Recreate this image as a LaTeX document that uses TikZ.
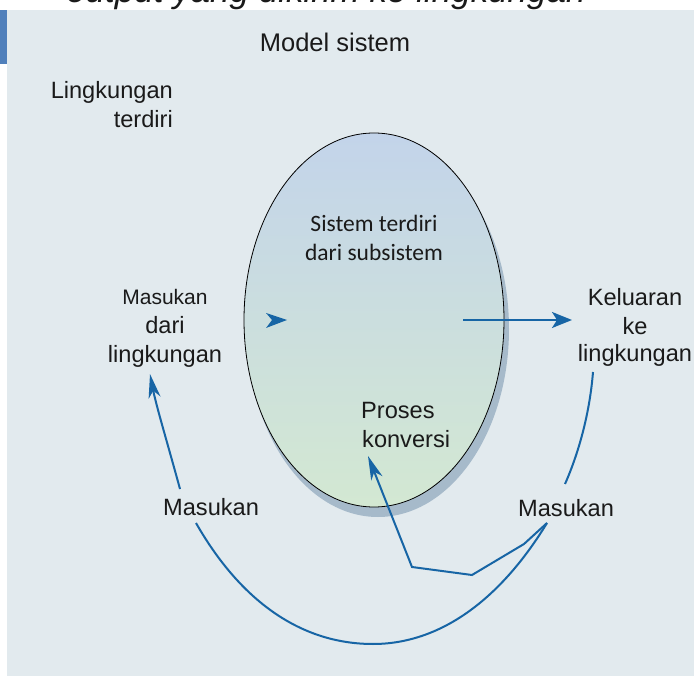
\documentclass[tikz,border=0pt]{standalone}
\usepackage{fontspec}
\setmainfont{Liberation Sans}
\newfontfamily\calibrifont{Carlito}
\usetikzlibrary{arrows.meta,shapes.geometric}

\definecolor{panelbg}{HTML}{E2EAEE}
\definecolor{sidebar}{HTML}{5080BB}
\definecolor{flow}{HTML}{1765A5}
\definecolor{ink}{HTML}{1A1A1A}
\definecolor{shadowc}{HTML}{A6BACA}
\definecolor{ovaltop}{HTML}{C3D4EA}
\definecolor{ovalmid}{HTML}{CBDDE0}
\definecolor{ovalbot}{HTML}{D3E8D2}

\begin{document}
\begin{tikzpicture}[x=1pt,y=-1pt,
  lbl/.style={inner sep=0pt, text=ink, font=\fontsize{23.6}{28}\selectfont},
  lblsmall/.style={inner sep=0pt, text=ink, font=\fontsize{21}{25}\selectfont},
  lblcal/.style={inner sep=0pt, text=ink, font=\calibrifont\fontsize{23.5}{28}\selectfont},
  flowline/.style={draw=flow, line width=2pt},
  tipbig/.style={-{Stealth[length=20pt,width=16pt,inset=5pt]}},
  tiplong/.style={-{Stealth[length=24pt,width=12pt,inset=7pt]}},
  oval/.style={ellipse, inner sep=0pt, minimum width=260pt, minimum height=374pt},
]
\useasboundingbox (0,0) rectangle (694,676);

% running text of the page above the figure (only its lower edge shows)
\begin{scope}
  \clip (0,0) rectangle (694,10);
  \node[inner sep=0pt, anchor=base west, text=ink,
        font=\itshape\fontsize{35}{40}\selectfont] (strap) at (66,3)
        {output yang dikirim ke lingkungan};
\end{scope}

% background panel and side tab
\fill[panelbg] (7,10) rectangle (694,676);
\fill[sidebar] (0,10) rectangle (7,64);

% the system oval with its drop shadow
\node[oval, fill=shadowc, minimum width=262pt, minimum height=376pt] (sysshadow) at (378,329) {};
\node[oval, draw=black, line width=0.8pt,
      top color=ovaltop, middle color=ovalmid, bottom color=ovalbot] (sys) at (374,320) {};

% labels
\node[inner sep=0pt, text=ink, anchor=base, font=\fontsize{25.5}{30}\selectfont] (title) at (335,52) {Model sistem};

\node[lbl, anchor=base east] (env1) at (173,99) {Lingkungan};
\node[lbl, anchor=base east] (env2) at (173,128) {terdiri};

\node[lblsmall, anchor=base] (in1) at (165,305) {Masukan};
\node[lbl, anchor=base] (in2) at (165,334) {dari};
\node[lbl, anchor=base] (in3) at (165,363) {lingkungan};

\node[lblcal, anchor=base] (sub1) at (374,232) {Sistem terdiri};
\node[lblcal, anchor=base] (sub2) at (374,261) {dari subsistem};

\node[lbl, anchor=base] (out1) at (635,306) {Keluaran};
\node[lbl, anchor=base] (out2) at (635,335) {ke};
\node[lbl, anchor=base] (out3) at (635,362) {lingkungan};

\node[lbl, anchor=base west] (proc1) at (361,419) {Proses};
\node[lbl, anchor=base west] (proc2) at (362,448) {konversi};

\node[lbl, anchor=base west] (mL) at (163,515) {Masukan};
\node[lbl, anchor=base west] (mR) at (518,516) {Masukan};

% connector end points
\coordinate (inTip) at (287,320);
\coordinate (outS) at (463,320);
\coordinate (outE) at (572,320);
\coordinate (mLtop) at (180,489);
\coordinate (in3bot) at (150,374);
\coordinate (out3bot) at (593,372);
\coordinate (mRtop) at (565,484);
\coordinate (mLbot) at (196,523);
\coordinate (mRbot) at (547,523);
\coordinate (arcLow) at (373,644);
\coordinate (z1) at (524,544);
\coordinate (z2) at (472,575);
\coordinate (z3) at (412,567);
\coordinate (procTip) at (368,456);

% arrowhead entering the system
\fill[flow] (266,313) -- (inTip) -- (266,328) -- (272,320) -- cycle;

% output to the environment
\draw[flowline, tipbig] (outS) -- (outE);

% feedback from the environment back to the input
\draw[flowline, tiplong] (mLtop) .. controls (168,445) and (156,405) .. (in3bot);
\draw[flowline] (out3bot) .. controls (590,410) and (580,450) .. (mRtop);
\draw[flowline] (mLbot) .. controls (240,600) and (300,644) .. (arcLow)
                .. controls (440,644) and (500,600) .. (mRbot);
\draw[flowline, tiplong] (mRbot) -- (z1) -- (z2) -- (z3) -- (procTip);
\end{tikzpicture}
\end{document}
